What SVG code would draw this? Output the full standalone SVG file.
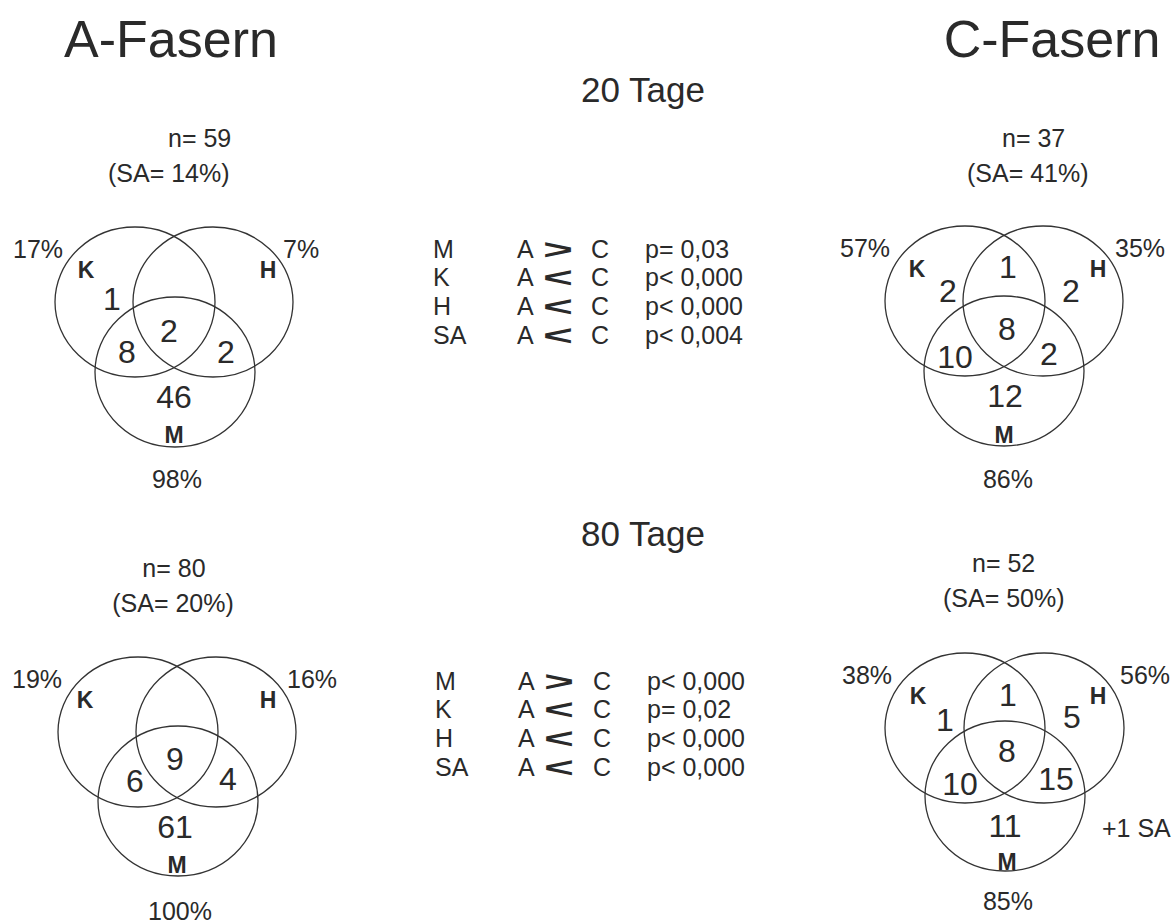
<svg xmlns="http://www.w3.org/2000/svg" width="1176" height="923" viewBox="0 0 1176 923">
<style>
text{font-family:"Liberation Sans",Arial,sans-serif;fill:#2a2a2a}
.title{font-size:52px}
.sub{font-size:35px}
.lbl{font-size:25px}
.num{font-size:32px}
.set{font-size:23px;font-weight:bold}
.st{font-size:25px}
.op{font-size:28px;font-weight:bold}
.m{text-anchor:middle}
ellipse{fill:none;stroke:#333;stroke-width:1.3}
</style>
<rect width="1176" height="923" fill="#fff"/>
<g id="titles">
<text class="title m" x="171" y="57">A-Fasern</text>
<text class="title m" x="1052" y="57">C-Fasern</text>
<text class="sub m" x="643" y="102">20 Tage</text>
<text class="sub m" x="643" y="546">80 Tage</text>
</g>
<g id="venn-a-20">
<ellipse id="a20-K" cx="135" cy="302" rx="80" ry="75"/>
<ellipse id="a20-H" cx="213" cy="302" rx="80" ry="75"/>
<ellipse id="a20-M" cx="175" cy="372" rx="80" ry="75"/>
<text class="lbl" x="168" y="147">n= 59</text>
<text class="lbl" x="108" y="182">(SA= 14%)</text>
<text class="lbl" x="13" y="258">17%</text>
<text class="set m" x="86" y="278">K</text>
<text class="lbl" x="283" y="258">7%</text>
<text class="set m" x="268" y="278">H</text>
<text class="num m" x="112" y="310">1</text>
<text class="num m" x="169" y="342">2</text>
<text class="num m" x="127" y="363">8</text>
<text class="num m" x="226" y="363">2</text>
<text class="num m" x="174" y="408">46</text>
<text class="set m" x="174" y="443">M</text>
<text class="lbl m" x="177" y="488">98%</text>
</g>
<g id="venn-c-20">
<ellipse id="c20-K" cx="965" cy="301" rx="80" ry="75"/>
<ellipse id="c20-H" cx="1043" cy="301" rx="80" ry="75"/>
<ellipse id="c20-M" cx="1004" cy="371" rx="80" ry="75"/>
<text class="lbl" x="1002" y="147">n= 37</text>
<text class="lbl" x="967" y="182">(SA= 41%)</text>
<text class="lbl" x="840" y="257">57%</text>
<text class="set m" x="917" y="277">K</text>
<text class="lbl" x="1115" y="257">35%</text>
<text class="set m" x="1098" y="277">H</text>
<text class="num m" x="948" y="302">2</text>
<text class="num m" x="1008" y="278">1</text>
<text class="num m" x="1071" y="302">2</text>
<text class="num m" x="1007" y="340">8</text>
<text class="num m" x="955" y="368">10</text>
<text class="num m" x="1049" y="365">2</text>
<text class="num m" x="1005" y="407">12</text>
<text class="set m" x="1004" y="443">M</text>
<text class="lbl m" x="1008" y="488">86%</text>
</g>
<g id="stats-20">
<text class="st" x="433" y="258">M</text>
<text class="st" x="433" y="286">K</text>
<text class="st" x="433" y="315">H</text>
<text class="st" x="433" y="344">SA</text>
<text class="st" x="517" y="258">A</text>
<text class="st" x="517" y="286">A</text>
<text class="st" x="517" y="315">A</text>
<text class="st" x="517" y="344">A</text>
<text class="op" x="543" y="259" textLength="30" lengthAdjust="spacingAndGlyphs">&gt;</text>
<text class="op" x="543" y="287" textLength="30" lengthAdjust="spacingAndGlyphs">&lt;</text>
<text class="op" x="543" y="316" textLength="30" lengthAdjust="spacingAndGlyphs">&lt;</text>
<text class="op" x="543" y="345" textLength="30" lengthAdjust="spacingAndGlyphs">&lt;</text>
<text class="st" x="591" y="258">C</text>
<text class="st" x="591" y="286">C</text>
<text class="st" x="591" y="315">C</text>
<text class="st" x="591" y="344">C</text>
<text class="st" x="645" y="258">p= 0,03</text>
<text class="st" x="645" y="286">p&lt; 0,000</text>
<text class="st" x="645" y="315">p&lt; 0,000</text>
<text class="st" x="645" y="344">p&lt; 0,004</text>
</g>
<g id="venn-a-80">
<ellipse id="a80-K" cx="138" cy="732" rx="80" ry="75"/>
<ellipse id="a80-H" cx="216" cy="732" rx="80" ry="75"/>
<ellipse id="a80-M" cx="178" cy="801" rx="80" ry="75"/>
<text class="lbl m" x="174" y="577">n= 80</text>
<text class="lbl m" x="173" y="612">(SA= 20%)</text>
<text class="lbl" x="12" y="688">19%</text>
<text class="set m" x="85" y="708">K</text>
<text class="lbl" x="287" y="688">16%</text>
<text class="set m" x="268" y="708">H</text>
<text class="num m" x="175" y="770">9</text>
<text class="num m" x="135" y="792">6</text>
<text class="num m" x="228" y="790">4</text>
<text class="num m" x="175" y="838">61</text>
<text class="set m" x="177" y="873">M</text>
<text class="lbl m" x="180" y="920">100%</text>
</g>
<g id="stats-80">
<text class="st" x="435" y="690">M</text>
<text class="st" x="435" y="718">K</text>
<text class="st" x="435" y="747">H</text>
<text class="st" x="435" y="776">SA</text>
<text class="st" x="518" y="690">A</text>
<text class="st" x="518" y="718">A</text>
<text class="st" x="518" y="747">A</text>
<text class="st" x="518" y="776">A</text>
<text class="op" x="544" y="691" textLength="30" lengthAdjust="spacingAndGlyphs">&gt;</text>
<text class="op" x="544" y="719" textLength="30" lengthAdjust="spacingAndGlyphs">&lt;</text>
<text class="op" x="544" y="748" textLength="30" lengthAdjust="spacingAndGlyphs">&lt;</text>
<text class="op" x="544" y="777" textLength="30" lengthAdjust="spacingAndGlyphs">&lt;</text>
<text class="st" x="593" y="690">C</text>
<text class="st" x="593" y="718">C</text>
<text class="st" x="593" y="747">C</text>
<text class="st" x="593" y="776">C</text>
<text class="st" x="647" y="690">p&lt; 0,000</text>
<text class="st" x="647" y="718">p= 0,02</text>
<text class="st" x="647" y="747">p&lt; 0,000</text>
<text class="st" x="647" y="776">p&lt; 0,000</text>
</g>
<g id="venn-c-80">
<ellipse id="c80-K" cx="965" cy="728" rx="80" ry="75"/>
<ellipse id="c80-H" cx="1044" cy="728" rx="80" ry="75"/>
<ellipse id="c80-M" cx="1005" cy="796" rx="80" ry="75"/>
<text class="lbl" x="972" y="572">n= 52</text>
<text class="lbl" x="943" y="607">(SA= 50%)</text>
<text class="lbl" x="842" y="684">38%</text>
<text class="set m" x="918" y="704">K</text>
<text class="lbl" x="1120" y="684">56%</text>
<text class="set m" x="1098" y="704">H</text>
<text class="num m" x="945" y="731">1</text>
<text class="num m" x="1008" y="706">1</text>
<text class="num m" x="1072" y="728">5</text>
<text class="num m" x="1007" y="762">8</text>
<text class="num m" x="960" y="795">10</text>
<text class="num m" x="1056" y="790">15</text>
<text class="num m" x="1005" y="837">11</text>
<text class="set m" x="1007" y="870">M</text>
<text class="lbl" x="1102" y="837">+1 SA</text>
<text class="lbl m" x="1008" y="910">85%</text>
</g>
</svg>
